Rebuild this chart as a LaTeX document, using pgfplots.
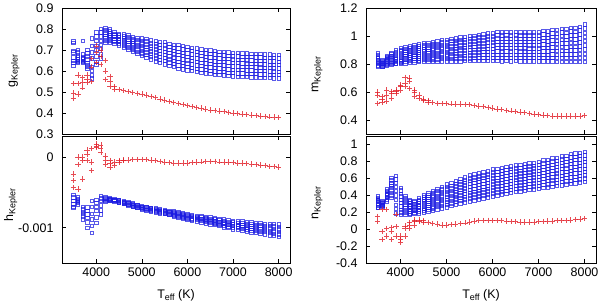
\documentclass[border=0pt]{standalone}
\usepackage{pgfplots}
\usepackage{pgfplotstable}
\pgfplotsset{compat=1.18}
\usepackage{fontspec}
\setmainfont{Liberation Sans}

\definecolor{bsq}{RGB}{25,25,225}
\definecolor{rpl}{RGB}{225,30,40}

\newcommand{\lab}[2]{#1\raisebox{-0.35ex}{\fontsize{9}{10}\selectfont #2}}

% g_Kepler
\pgfplotstableread{
T b1 b2 b3 b4 b5 b6 b7 b8 r1 r2 r3
3500 0.625 0.640 0.650 0.665 0.690 0.695 0.735 0.742 0.470 0.495 0.540
3600 0.640 0.645 0.650 0.655 0.665 0.675 0.690 0.700 0.490 0.540 0.580
3700 0.640 0.645 0.650 0.655 0.660 0.665 0.680 0.745 0.520 0.545 0.570
3800 0.610 0.620 0.630 0.640 0.655 0.670 0.685 0.700 0.545 0.560 0.580
3900 0.565 0.580 0.600 0.620 0.660 0.690 0.720 0.755 0.550 0.620 0.660
4000 0.630 0.645 0.670 0.700 0.720 0.745 0.765 0.785 0.640 0.690 0.720
4100 0.660 0.680 0.705 0.725 0.745 0.765 0.785 0.800 0.630 0.670 0.700
4200 0.735 0.745 0.755 0.765 0.775 0.785 0.795 0.805 0.560 0.600 0.650
4300 0.735 0.744 0.753 0.762 0.771 0.780 0.789 0.798 0.525 0.550 0.575
4400 0.730 0.738 0.746 0.754 0.762 0.770 0.778 0.786 0.515 0.525 nan
4500 0.722 0.730 0.738 0.746 0.754 0.762 0.770 0.778 0.511 nan nan
4600 0.712 0.721 0.730 0.739 0.748 0.757 0.766 0.775 0.506 nan nan
4700 0.702 0.712 0.722 0.732 0.742 0.752 0.762 0.772 0.502 nan nan
4800 0.692 0.702 0.712 0.722 0.732 0.742 0.752 0.762 0.498 nan nan
4900 0.682 0.693 0.704 0.715 0.726 0.737 0.748 0.759 0.494 nan nan
5000 0.672 0.684 0.696 0.708 0.720 0.732 0.744 0.756 0.490 nan nan
5100 0.663 0.676 0.689 0.702 0.715 0.728 0.741 0.754 0.485 nan nan
5200 0.655 0.668 0.681 0.694 0.707 0.720 0.733 0.746 0.479 nan nan
5300 0.647 0.661 0.675 0.689 0.703 0.717 0.731 0.745 0.473 nan nan
5400 0.640 0.654 0.668 0.682 0.696 0.710 0.724 0.738 0.467 nan nan
5500 0.633 0.648 0.663 0.678 0.693 0.708 0.723 0.738 0.461 nan nan
5600 0.626 0.641 0.656 0.671 0.686 0.701 0.716 0.731 0.456 nan nan
5700 0.620 0.635 0.650 0.665 0.680 0.695 0.710 0.725 0.450 nan nan
5800 0.612 0.628 0.644 0.660 0.676 0.692 0.708 0.724 0.445 nan nan
5900 0.608 0.624 0.640 0.656 0.672 0.688 0.704 0.720 0.440 nan nan
6000 0.604 0.620 0.636 0.652 0.668 0.684 0.700 0.716 0.435 nan nan
6100 0.600 0.616 0.632 0.648 0.664 0.680 0.696 0.712 0.431 nan nan
6200 0.596 0.612 0.628 0.644 0.660 0.676 0.692 0.708 0.427 nan nan
6300 0.592 0.608 0.624 0.640 0.656 0.672 0.688 0.704 0.423 nan nan
6400 0.589 0.605 0.621 0.637 0.653 0.669 0.685 0.701 0.419 nan nan
6500 0.586 0.602 0.618 0.634 0.650 0.666 0.682 0.698 0.415 nan nan
6600 0.583 0.599 0.615 0.631 0.647 0.663 0.679 0.695 0.412 nan nan
6700 0.581 0.597 0.613 0.629 0.645 0.661 0.677 0.693 0.409 nan nan
6800 0.579 0.595 0.611 0.627 0.643 0.659 0.675 0.691 0.406 nan nan
6900 0.577 0.593 0.609 0.625 0.641 0.657 0.673 0.689 0.403 nan nan
7000 0.575 0.591 0.607 0.623 0.639 0.655 0.671 0.687 0.400 nan nan
7100 0.574 0.590 0.606 0.622 0.638 0.654 0.670 0.686 0.398 nan nan
7200 0.573 0.589 0.605 0.621 0.637 0.653 0.669 0.685 0.395 nan nan
7300 0.572 0.588 0.604 0.620 0.636 0.652 0.668 0.684 0.393 nan nan
7400 0.571 0.587 0.603 0.619 0.635 0.651 0.667 0.683 0.390 nan nan
7500 0.570 0.586 0.602 0.618 0.634 0.650 0.666 0.682 0.388 nan nan
7600 0.569 0.585 0.601 0.617 0.633 0.649 0.665 0.681 0.386 nan nan
7700 0.568 0.584 0.600 0.616 0.632 0.648 0.664 0.680 0.384 nan nan
7800 0.567 0.583 0.599 0.615 0.631 0.647 0.663 0.679 0.382 nan nan
7900 0.566 0.582 0.598 0.614 0.630 0.646 0.662 0.678 0.381 nan nan
8000 0.565 0.581 0.597 0.613 0.629 0.645 0.661 0.677 0.379 nan nan
}\tg

% h_Kepler
\pgfplotstableread{
T b1 b2 b3 b4 b5 b6 r1 r2 r3
3500 -7.2e-4 -7.0e-4 -6.6e-4 -6.2e-4 -5.7e-4 -5.3e-4 -4.3e-4 -3.3e-4 -2.4e-4
3600 -6.7e-4 -6.5e-4 -6.3e-4 -6.1e-4 -5.9e-4 -5.7e-4 -4.5e-4 -1.0e-4 0
3700 -8.8e-4 -8.4e-4 -8.0e-4 -7.7e-4 -7.4e-4 -7.0e-4 -3.1e-4 -0.5e-4 0
3800 -10.0e-4 -9.2e-4 -8.6e-4 -8.1e-4 -7.6e-4 -7.1e-4 -0.5e-4 0.4e-4 1.0e-4
3900 -10.7e-4 -9.7e-4 -8.8e-4 -8.0e-4 -7.0e-4 -6.2e-4 -1.9e-4 -0.7e-4 1.2e-4
4000 -9.3e-4 -8.5e-4 -7.6e-4 -7.0e-4 -6.5e-4 -6.0e-4 1.4e-4 1.6e-4 1.9e-4
4100 -8.1e-4 -7.5e-4 -6.8e-4 -6.2e-4 -5.8e-4 -5.5e-4 0.7e-4 1.2e-4 1.7e-4
4200 -6.3e-4 -6.2e-4 -6.0e-4 -5.9e-4 -5.8e-4 -5.7e-4 -1.0e-4 -0.4e-4 0.2e-4
4300 -6.15e-4 -6.09e-4 -6.03e-4 -5.97e-4 -5.91e-4 -5.85e-4 -1.4e-4 -0.9e-4 -0.5e-4
4400 -6.25e-4 -6.19e-4 -6.13e-4 -6.07e-4 -6.01e-4 -5.95e-4 -1.2e-4 -0.7e-4 nan
4500 -6.45e-4 -6.37e-4 -6.29e-4 -6.21e-4 -6.13e-4 -6.05e-4 -0.7e-4 -0.5e-4 nan
4600 -6.62e-4 -6.54e-4 -6.46e-4 -6.38e-4 -6.30e-4 -6.22e-4 -0.5e-4 -0.4e-4 nan
4700 -6.85e-4 -6.75e-4 -6.65e-4 -6.55e-4 -6.45e-4 -6.35e-4 -0.4e-4 nan nan
4800 -7.03e-4 -6.93e-4 -6.83e-4 -6.73e-4 -6.63e-4 -6.53e-4 -0.3e-4 nan nan
4900 -7.21e-4 -7.11e-4 -7.01e-4 -6.91e-4 -6.81e-4 -6.71e-4 -0.3e-4 nan nan
5000 -7.40e-4 -7.30e-4 -7.20e-4 -7.10e-4 -7.00e-4 -6.90e-4 -0.3e-4 nan nan
5100 -7.52e-4 -7.42e-4 -7.32e-4 -7.22e-4 -7.12e-4 -7.02e-4 -0.35e-4 nan nan
5200 -7.64e-4 -7.54e-4 -7.44e-4 -7.34e-4 -7.24e-4 -7.14e-4 -0.4e-4 nan nan
5300 -7.81e-4 -7.69e-4 -7.57e-4 -7.45e-4 -7.33e-4 -7.21e-4 -0.5e-4 nan nan
5400 -7.93e-4 -7.81e-4 -7.69e-4 -7.57e-4 -7.45e-4 -7.33e-4 -0.6e-4 nan nan
5500 -8.05e-4 -7.93e-4 -7.81e-4 -7.69e-4 -7.57e-4 -7.45e-4 -0.7e-4 nan nan
5600 -8.19e-4 -8.07e-4 -7.95e-4 -7.83e-4 -7.71e-4 -7.59e-4 -0.75e-4 nan nan
5700 -8.38e-4 -8.24e-4 -8.10e-4 -7.96e-4 -7.82e-4 -7.68e-4 -0.8e-4 nan nan
5800 -8.52e-4 -8.38e-4 -8.24e-4 -8.10e-4 -7.96e-4 -7.82e-4 -0.8e-4 nan nan
5900 -8.66e-4 -8.52e-4 -8.38e-4 -8.24e-4 -8.10e-4 -7.96e-4 -0.8e-4 nan nan
6000 -8.80e-4 -8.66e-4 -8.52e-4 -8.38e-4 -8.24e-4 -8.10e-4 -0.8e-4 nan nan
6100 -8.96e-4 -8.80e-4 -8.64e-4 -8.48e-4 -8.32e-4 -8.16e-4 -0.75e-4 nan nan
6200 -9.07e-4 -8.91e-4 -8.75e-4 -8.59e-4 -8.43e-4 -8.27e-4 -0.7e-4 nan nan
6300 -9.23e-4 -9.05e-4 -8.87e-4 -8.69e-4 -8.51e-4 -8.33e-4 -0.65e-4 nan nan
6400 -9.34e-4 -9.16e-4 -8.98e-4 -8.80e-4 -8.62e-4 -8.44e-4 -0.6e-4 nan nan
6500 -9.50e-4 -9.30e-4 -9.10e-4 -8.90e-4 -8.70e-4 -8.50e-4 -0.6e-4 nan nan
6600 -9.62e-4 -9.42e-4 -9.22e-4 -9.02e-4 -8.82e-4 -8.62e-4 -0.6e-4 nan nan
6700 -9.74e-4 -9.54e-4 -9.34e-4 -9.14e-4 -8.94e-4 -8.74e-4 -0.65e-4 nan nan
6800 -9.91e-4 -9.69e-4 -9.47e-4 -9.25e-4 -9.03e-4 -8.81e-4 -0.7e-4 nan nan
6900 -10.03e-4 -9.81e-4 -9.59e-4 -9.37e-4 -9.15e-4 -8.93e-4 -0.7e-4 nan nan
7000 -10.20e-4 -9.96e-4 -9.72e-4 -9.48e-4 -9.24e-4 -9.00e-4 -0.75e-4 nan nan
7100 -10.28e-4 -10.04e-4 -9.80e-4 -9.56e-4 -9.32e-4 -9.08e-4 -0.8e-4 nan nan
7200 -10.41e-4 -10.15e-4 -9.89e-4 -9.63e-4 -9.37e-4 -9.11e-4 -0.85e-4 nan nan
7300 -10.49e-4 -10.23e-4 -9.97e-4 -9.71e-4 -9.45e-4 -9.19e-4 -0.9e-4 nan nan
7400 -10.62e-4 -10.34e-4 -10.06e-4 -9.78e-4 -9.50e-4 -9.22e-4 -0.95e-4 nan nan
7500 -10.70e-4 -10.42e-4 -10.14e-4 -9.86e-4 -9.58e-4 -9.30e-4 -1.0e-4 nan nan
7600 -10.83e-4 -10.53e-4 -10.23e-4 -9.93e-4 -9.63e-4 -9.33e-4 -1.1e-4 nan nan
7700 -10.91e-4 -10.61e-4 -10.31e-4 -10.01e-4 -9.71e-4 -9.41e-4 -1.2e-4 nan nan
7800 -11.04e-4 -10.72e-4 -10.40e-4 -10.08e-4 -9.76e-4 -9.44e-4 -1.3e-4 nan nan
7900 -11.17e-4 -10.83e-4 -10.49e-4 -10.15e-4 -9.81e-4 -9.47e-4 -1.35e-4 nan nan
8000 -11.30e-4 -10.94e-4 -10.58e-4 -10.22e-4 -9.86e-4 -9.50e-4 -1.4e-4 nan nan
}\th

% m_Kepler
\pgfplotstableread{
T b1 b2 b3 b4 b5 b6 b7 b8 b9 b10 r1 r2 r3
3500 0.785 0.790 0.800 0.810 0.820 0.830 0.840 0.850 0.865 0.880 0.520 0.580 0.600
3600 0.780 0.785 0.790 0.795 0.800 0.805 0.810 0.815 0.822 0.830 0.530 0.545 0.570
3700 0.790 0.795 0.800 0.810 0.820 0.830 0.838 0.845 0.852 0.860 0.536 0.580 0.615
3800 0.795 0.800 0.810 0.820 0.830 0.840 0.850 0.860 0.870 0.880 0.555 0.590 0.605
3900 0.800 0.805 0.815 0.825 0.835 0.845 0.860 0.875 0.888 0.900 0.590 0.605 0.615
4000 0.800 0.810 0.820 0.830 0.845 0.860 0.875 0.890 0.903 0.915 0.615 0.640 0.650
4100 0.805 0.818 0.831 0.844 0.857 0.870 0.883 0.896 0.909 0.922 0.640 0.665 0.705
4200 0.810 0.823 0.836 0.849 0.862 0.875 0.888 0.901 0.914 0.927 0.625 0.680 0.700
4300 0.812 0.826 0.840 0.854 0.868 0.882 0.896 0.910 0.924 0.938 0.570 0.600 0.615
4400 0.814 0.828 0.842 0.856 0.870 0.884 0.898 0.912 0.926 0.940 0.555 0.580 nan
4500 0.815 0.830 0.845 0.860 0.875 0.890 0.905 0.920 0.935 0.950 0.540 0.550 nan
4600 0.816 0.831 0.846 0.861 0.876 0.891 0.906 0.921 0.936 0.951 0.530 0.540 nan
4700 0.817 0.833 0.849 0.865 0.881 0.897 0.913 0.929 0.945 0.961 0.525 nan nan
4800 0.818 0.834 0.850 0.866 0.882 0.898 0.914 0.930 0.946 0.962 0.520 nan nan
4900 0.819 0.836 0.853 0.870 0.887 0.904 0.921 0.938 0.955 0.972 0.518 nan nan
5000 0.820 0.837 0.854 0.871 0.888 0.905 0.922 0.939 0.956 0.973 0.517 nan nan
5100 0.820 0.838 0.856 0.874 0.892 0.910 0.928 0.946 0.964 0.982 0.516 nan nan
5200 0.821 0.839 0.857 0.875 0.893 0.911 0.929 0.947 0.965 0.983 0.515 nan nan
5300 0.821 0.840 0.859 0.878 0.897 0.916 0.935 0.954 0.973 0.992 0.514 nan nan
5400 0.822 0.841 0.860 0.879 0.898 0.917 0.936 0.955 0.974 0.993 0.512 nan nan
5500 0.822 0.842 0.862 0.882 0.902 0.922 0.942 0.962 0.982 1.002 0.509 nan nan
5600 0.823 0.843 0.863 0.883 0.903 0.923 0.943 0.963 0.983 1.003 0.505 nan nan
5700 0.822 0.843 0.864 0.885 0.906 0.927 0.948 0.969 0.990 1.011 0.500 nan nan
5800 0.823 0.844 0.865 0.886 0.907 0.928 0.949 0.970 0.991 1.012 0.495 nan nan
5900 0.822 0.844 0.866 0.888 0.910 0.932 0.954 0.976 0.998 1.020 0.490 nan nan
6000 0.823 0.845 0.867 0.889 0.911 0.933 0.955 0.977 0.999 1.021 0.485 nan nan
6100 0.822 0.845 0.868 0.891 0.914 0.937 0.960 0.983 1.006 1.029 0.480 nan nan
6200 0.821 0.844 0.867 0.890 0.913 0.936 0.959 0.982 1.005 1.028 0.475 nan nan
6300 0.822 0.845 0.868 0.891 0.914 0.937 0.960 0.983 1.006 1.029 0.470 nan nan
6400 0.821 0.844 0.867 0.890 0.913 0.936 0.959 0.982 1.005 1.028 0.466 nan nan
6500 0.822 0.845 0.868 0.891 0.914 0.937 0.960 0.983 1.006 1.029 0.462 nan nan
6600 0.821 0.844 0.867 0.890 0.913 0.936 0.959 0.982 1.005 1.028 0.457 nan nan
6700 0.821 0.844 0.867 0.890 0.913 0.936 0.959 0.982 1.005 1.028 0.452 nan nan
6800 0.820 0.843 0.866 0.889 0.912 0.935 0.958 0.981 1.004 1.027 0.447 nan nan
6900 0.820 0.843 0.866 0.889 0.912 0.935 0.958 0.981 1.004 1.027 0.442 nan nan
7000 0.820 0.843 0.866 0.889 0.912 0.935 0.958 0.981 1.004 1.027 0.438 nan nan
7100 0.820 0.844 0.868 0.892 0.916 0.940 0.964 0.988 1.012 1.036 0.435 nan nan
7200 0.819 0.843 0.867 0.891 0.915 0.939 0.963 0.987 1.011 1.035 0.432 nan nan
7300 0.819 0.844 0.869 0.894 0.919 0.944 0.969 0.994 1.019 1.044 0.430 nan nan
7400 0.818 0.843 0.868 0.893 0.918 0.943 0.968 0.993 1.018 1.043 0.429 nan nan
7500 0.818 0.844 0.870 0.896 0.922 0.948 0.974 1.000 1.026 1.052 0.428 nan nan
7600 0.817 0.843 0.869 0.895 0.921 0.947 0.973 0.999 1.025 1.051 0.428 nan nan
7700 0.817 0.844 0.871 0.898 0.925 0.952 0.979 1.006 1.033 1.060 0.428 nan nan
7800 0.816 0.843 0.870 0.897 0.924 0.951 0.978 1.005 1.032 1.059 0.429 nan nan
7900 0.816 0.844 0.872 0.900 0.928 0.956 0.984 1.012 1.040 1.068 0.430 nan nan
8000 0.815 0.845 0.875 0.905 0.935 0.965 0.995 1.025 1.055 1.085 0.432 nan nan
}\tm

% n_Kepler
\pgfplotstableread{
T b1 b2 b3 b4 b5 b6 b7 b8 b9 b10 r1 r2 r3
3500 0.25 0.26 0.28 0.30 0.32 0.34 0.35 0.36 0.37 0.39 0.09 0.15 nan
3600 0.27 0.275 0.28 0.285 0.29 0.30 0.305 0.31 0.32 0.33 -0.12 -0.03 0.23
3700 0.33 0.35 0.37 0.38 0.40 0.41 0.42 0.44 0.455 0.47 -0.08 0.01 0.23
3800 0.37 0.40 0.43 0.46 0.49 0.51 0.53 0.55 0.58 0.61 -0.12 -0.03 0.02
3900 0.19 0.24 0.29 0.35 0.40 0.45 0.50 0.55 0.59 0.63 -0.08 0.03 0.17
4000 0.17 0.20 0.23 0.27 0.31 0.35 0.39 0.42 0.46 0.49 -0.16 -0.12 -0.08
4100 0.170 0.195 0.220 0.245 0.270 0.295 0.320 0.345 0.370 0.395 -0.08 0.01 0.04
4200 0.170 0.190 0.210 0.230 0.250 0.270 0.290 0.310 0.330 0.350 0.01 0.05 0.08
4300 0.180 0.197 0.214 0.231 0.248 0.265 0.282 0.299 0.316 0.333 0.05 0.09 0.11
4400 0.190 0.210 0.230 0.250 0.270 0.290 0.310 0.330 0.350 0.370 0.09 0.11 nan
4500 0.200 0.222 0.244 0.266 0.288 0.310 0.332 0.354 0.376 0.398 0.085 0.10 nan
4600 0.210 0.234 0.258 0.282 0.306 0.330 0.354 0.378 0.402 0.426 0.08 nan nan
4700 0.220 0.246 0.272 0.298 0.324 0.350 0.376 0.402 0.428 0.454 0.07 nan nan
4800 0.235 0.262 0.289 0.316 0.343 0.370 0.397 0.424 0.451 0.478 0.06 nan nan
4900 0.248 0.276 0.304 0.332 0.360 0.388 0.416 0.444 0.472 0.500 0.05 nan nan
5000 0.260 0.290 0.320 0.350 0.380 0.410 0.440 0.470 0.500 0.530 0.05 nan nan
5100 0.275 0.305 0.335 0.365 0.395 0.425 0.455 0.485 0.515 0.545 0.055 nan nan
5200 0.290 0.321 0.352 0.383 0.414 0.445 0.476 0.507 0.538 0.569 0.06 nan nan
5300 0.305 0.337 0.369 0.401 0.433 0.465 0.497 0.529 0.561 0.593 0.065 nan nan
5400 0.318 0.351 0.384 0.417 0.450 0.483 0.516 0.549 0.582 0.615 0.075 nan nan
5500 0.330 0.364 0.398 0.432 0.466 0.500 0.534 0.568 0.602 0.636 0.085 nan nan
5600 0.342 0.376 0.410 0.444 0.478 0.512 0.546 0.580 0.614 0.648 0.095 nan nan
5700 0.354 0.388 0.422 0.456 0.490 0.524 0.558 0.592 0.626 0.660 0.10 nan nan
5800 0.366 0.400 0.434 0.468 0.502 0.536 0.570 0.604 0.638 0.672 0.105 nan nan
5900 0.378 0.412 0.446 0.480 0.514 0.548 0.582 0.616 0.650 0.684 0.105 nan nan
6000 0.390 0.425 0.460 0.495 0.530 0.565 0.600 0.635 0.670 0.705 0.105 nan nan
6100 0.400 0.435 0.470 0.505 0.540 0.575 0.610 0.645 0.680 0.715 0.10 nan nan
6200 0.410 0.445 0.480 0.515 0.550 0.585 0.620 0.655 0.690 0.725 0.10 nan nan
6300 0.420 0.455 0.490 0.525 0.560 0.595 0.630 0.665 0.700 0.735 0.095 nan nan
6400 0.430 0.465 0.500 0.535 0.570 0.605 0.640 0.675 0.710 0.745 0.09 nan nan
6500 0.440 0.475 0.510 0.545 0.580 0.615 0.650 0.685 0.720 0.755 0.09 nan nan
6600 0.448 0.483 0.518 0.553 0.588 0.623 0.658 0.693 0.728 0.763 0.085 nan nan
6700 0.456 0.491 0.526 0.561 0.596 0.631 0.666 0.701 0.736 0.771 0.085 nan nan
6800 0.464 0.499 0.534 0.569 0.604 0.639 0.674 0.709 0.744 0.779 0.085 nan nan
6900 0.472 0.507 0.542 0.577 0.612 0.647 0.682 0.717 0.752 0.787 0.085 nan nan
7000 0.480 0.515 0.550 0.585 0.620 0.655 0.690 0.725 0.760 0.795 0.09 nan nan
7100 0.488 0.524 0.560 0.596 0.632 0.668 0.704 0.740 0.776 0.812 0.09 nan nan
7200 0.496 0.532 0.568 0.604 0.640 0.676 0.712 0.748 0.784 0.820 0.095 nan nan
7300 0.504 0.541 0.578 0.615 0.652 0.689 0.726 0.763 0.800 0.837 0.095 nan nan
7400 0.512 0.549 0.586 0.623 0.660 0.697 0.734 0.771 0.808 0.845 0.10 nan nan
7500 0.520 0.558 0.596 0.634 0.672 0.710 0.748 0.786 0.824 0.862 0.10 nan nan
7600 0.528 0.566 0.604 0.642 0.680 0.718 0.756 0.794 0.832 0.870 0.105 nan nan
7700 0.536 0.575 0.614 0.653 0.692 0.731 0.770 0.809 0.848 0.887 0.11 nan nan
7800 0.544 0.583 0.622 0.661 0.700 0.739 0.778 0.817 0.856 0.895 0.115 nan nan
7900 0.552 0.591 0.630 0.669 0.708 0.747 0.786 0.825 0.864 0.903 0.12 nan nan
8000 0.560 0.599 0.638 0.677 0.716 0.755 0.794 0.833 0.872 0.911 0.125 nan nan
}\tn

\pgfplotsset{
  bsqs/.style={only marks, mark=square, mark size=1.7bp, color=bsq,
    mark options={line width=0.5bp, draw opacity=0.72}},
  rpls/.style={only marks, mark=+, mark size=2.7bp, color=rpl,
    mark options={line width=0.5bp, draw opacity=0.8}},
  panel/.style={scale only axis, anchor=south west,
    xmin=3250, xmax=8250, xtick={4000,5000,6000,7000,8000},
    tick align=inside, major tick length=4bp,
    axis line style={line width=0.8bp, black},
    every tick/.style={black, line width=0.6bp},
    tick label style={font=\fontsize{12.5}{14}\selectfont},
    label style={font=\fontsize{12.5}{14}\selectfont},
    yticklabel style={xshift=-5bp},
    xticklabel style={yshift=-1bp},
    scaled y ticks=false, scaled x ticks=false,
    ylabel style={anchor=center}},
  bottompanel/.style={xticklabels={4000,5000,6000,7000,8000},
    xlabel={\lab{T}{eff} (K)},
    xlabel style={at={(axis description cs:0.5,0)}, anchor=base, yshift=-35bp}},
  toppanel/.style={xticklabels={}}
}

\begin{document}
\begin{tikzpicture}[x=1bp,y=1bp,font=\fontsize{12.5}{14}\selectfont]
\path[use as bounding box] (0,0) rectangle (600,304);

% top left: g
\begin{axis}[panel, toppanel, at={(62bp,170bp)}, width=228bp, height=126bp,
  ymin=0.3, ymax=0.9, ytick={0.3,0.4,0.5,0.6,0.7,0.8,0.9},
  yticklabels={0.3,0.4,0.5,0.6,0.7,0.8,0.9},
  ylabel={\lab{g}{Kepler}}, ylabel style={at={(axis description cs:-0.21,0.5)}}]
\addplot[bsqs] table[x=T,y=b1]{\tg};
\addplot[bsqs] table[x=T,y=b2]{\tg};
\addplot[bsqs] table[x=T,y=b3]{\tg};
\addplot[bsqs] table[x=T,y=b4]{\tg};
\addplot[bsqs] table[x=T,y=b5]{\tg};
\addplot[bsqs] table[x=T,y=b6]{\tg};
\addplot[bsqs] table[x=T,y=b7]{\tg};
\addplot[bsqs] table[x=T,y=b8]{\tg};
\addplot[rpls] table[x=T,y=r1]{\tg};
\addplot[rpls] table[x=T,y=r2]{\tg};
\addplot[rpls] table[x=T,y=r3]{\tg};
\end{axis}

% bottom left: h
\begin{axis}[panel, bottompanel, at={(62bp,41bp)}, width=228bp, height=127bp,
  ymin=-0.0015, ymax=0.0003, ytick={-0.001,0},
  yticklabels={-0.001,0},
  ylabel={\lab{h}{Kepler}}, ylabel style={at={(axis description cs:-0.225,0.46)}}]
\addplot[bsqs] table[x=T,y=b1]{\th};
\addplot[bsqs] table[x=T,y=b2]{\th};
\addplot[bsqs] table[x=T,y=b3]{\th};
\addplot[bsqs] table[x=T,y=b4]{\th};
\addplot[bsqs] table[x=T,y=b5]{\th};
\addplot[bsqs] table[x=T,y=b6]{\th};
\addplot[rpls] table[x=T,y=r1]{\th};
\addplot[rpls] table[x=T,y=r2]{\th};
\addplot[rpls] table[x=T,y=r3]{\th};
\end{axis}

% top right: m
\begin{axis}[panel, toppanel, at={(366bp,170bp)}, width=230bp, height=126bp,
  ymin=0.3, ymax=1.2, ytick={0.4,0.6,0.8,1,1.2},
  yticklabels={0.4,0.6,0.8,1,1.2},
  ylabel={\lab{m}{Kepler}}, ylabel style={at={(axis description cs:-0.213,0.47)}}]
\addplot[bsqs] table[x=T,y=b1]{\tm};
\addplot[bsqs] table[x=T,y=b2]{\tm};
\addplot[bsqs] table[x=T,y=b3]{\tm};
\addplot[bsqs] table[x=T,y=b4]{\tm};
\addplot[bsqs] table[x=T,y=b5]{\tm};
\addplot[bsqs] table[x=T,y=b6]{\tm};
\addplot[bsqs] table[x=T,y=b7]{\tm};
\addplot[bsqs] table[x=T,y=b8]{\tm};
\addplot[bsqs] table[x=T,y=b9]{\tm};
\addplot[bsqs] table[x=T,y=b10]{\tm};
\addplot[rpls] table[x=T,y=r1]{\tm};
\addplot[rpls] table[x=T,y=r2]{\tm};
\addplot[rpls] table[x=T,y=r3]{\tm};
\end{axis}

% bottom right: n
\begin{axis}[panel, bottompanel, at={(366bp,41bp)}, width=230bp, height=127bp,
  ymin=-0.4, ymax=1.1, ytick={-0.4,-0.2,0,0.2,0.4,0.6,0.8,1},
  yticklabels={-0.4,-0.2,0,0.2,0.4,0.6,0.8,1},
  ylabel={\lab{n}{Kepler}}, ylabel style={at={(axis description cs:-0.213,0.47)}}]
\addplot[bsqs] table[x=T,y=b1]{\tn};
\addplot[bsqs] table[x=T,y=b2]{\tn};
\addplot[bsqs] table[x=T,y=b3]{\tn};
\addplot[bsqs] table[x=T,y=b4]{\tn};
\addplot[bsqs] table[x=T,y=b5]{\tn};
\addplot[bsqs] table[x=T,y=b6]{\tn};
\addplot[bsqs] table[x=T,y=b7]{\tn};
\addplot[bsqs] table[x=T,y=b8]{\tn};
\addplot[bsqs] table[x=T,y=b9]{\tn};
\addplot[bsqs] table[x=T,y=b10]{\tn};
\addplot[rpls] table[x=T,y=r1]{\tn};
\addplot[rpls] table[x=T,y=r2]{\tn};
\addplot[rpls] table[x=T,y=r3]{\tn};
\end{axis}
\end{tikzpicture}
\end{document}
